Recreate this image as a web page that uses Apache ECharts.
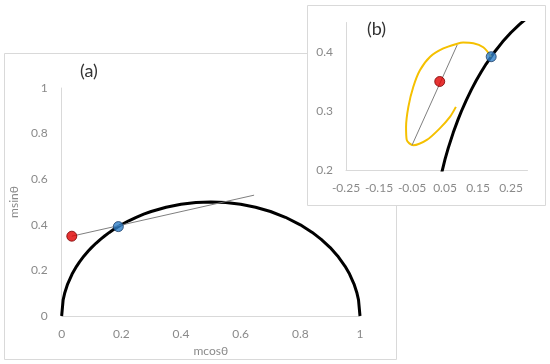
<!DOCTYPE html>
<html><head><meta charset="utf-8">
<script src="https://cdn.jsdelivr.net/npm/echarts@6/dist/echarts.min.js"></script>
<style>html,body{margin:0;padding:0;background:#fff}#c{width:550px;height:364px}</style>
</head><body><div id="c"></div>
<script>
// Semicircle (black curve)
const arcX = [0,0.005,0.01,0.02,0.035,0.05,0.06,0.075,0.09,0.1,0.115,0.13,0.145,0.16,0.175,0.2,0.225,0.25,0.275,0.3,0.35,0.4,0.45,0.5,0.55,0.6,0.65,0.7,0.75,0.8,0.84,0.87,0.9,0.925,0.95,0.965,0.98,0.99,0.995,1];
const arcY = [0,0.0705,0.0995,0.14,0.1838,0.2179,0.2375,0.2634,0.2862,0.3,0.319,0.3363,0.3521,0.3666,0.38,0.4,0.4176,0.433,0.4465,0.4583,0.477,0.4899,0.4975,0.5,0.4975,0.4899,0.477,0.4583,0.433,0.4,0.3666,0.3363,0.3,0.2634,0.2179,0.1838,0.14,0.0995,0.0705,0];
// Points
const redPt = [0.034, 0.35];
const bluePt = [0.19, 0.392];
// Gray line in panel (a)
const lineAX = [0.034, 0.645];
const lineAY = [0.35, 0.53];
// Gray line in panel (b)
const lineBX = [-0.05, 0.087];
const lineBY = [0.242, 0.412];
// Yellow loop in panel (b)
const loopX = [0.19,0.166,0.136,0.105,0.087,0.045,0.005,-0.026,-0.046,-0.061,-0.068,-0.066,-0.046,-0.005,0.035,0.065,0.083];
const loopY = [0.392,0.408,0.415,0.416,0.414,0.406,0.392,0.369,0.341,0.307,0.273,0.251,0.242,0.251,0.271,0.29,0.307];
// Tick labels
const aTicks = [0,0.2,0.4,0.6,0.8,1];
const bXTicks = [-0.25,-0.15,-0.05,0.05,0.15,0.25];
const bYTicks = [0.2,0.3,0.4];

const zip = (a,b)=>a.map((v,i)=>[v,b[i]]);
const FONT = 'Lato';
const GRAY = '#8a8a8a';
const AXC = '#d9d9d9';

const chart = echarts.init(document.getElementById('c'));
chart.setOption({
  animation:false,
  textStyle:{fontFamily:FONT},
  graphic:[
    {type:'rect', z:-10, shape:{x:4.5,y:53.5,width:392,height:306}, style:{fill:'#fff',stroke:AXC,lineWidth:1}},
    {type:'rect', z:-5, shape:{x:307.5,y:5.5,width:238,height:200}, style:{fill:'#fff',stroke:AXC,lineWidth:1}},
    {type:'text', z:10, left:80, top:62, style:{text:'(a)', fontSize:18, fill:'#333', fontFamily:FONT}},
    {type:'text', z:10, left:367, top:20, style:{text:'(b)', fontSize:18, fill:'#333', fontFamily:FONT}}
  ],
  grid:[
    {left:58, top:88, width:302, height:228},
    {left:346, top:22.5, width:181.5, height:147.5}
  ],
  xAxis:[
    {gridIndex:0, type:'value', min:0, max:1, interval:0.2,
     axisLine:{onZero:false, lineStyle:{color:AXC}}, axisTick:{show:false}, splitLine:{show:false},
     axisLabel:{color:GRAY, fontSize:12, margin:12, fontFamily:FONT},
     name:'mcosθ', nameLocation:'middle', nameGap:28, nameTextStyle:{color:GRAY, fontSize:12, fontFamily:FONT}},
    {gridIndex:1, type:'value', min:-0.25, max:0.3,
     axisLine:{onZero:false, lineStyle:{color:AXC}}, axisTick:{show:false}, splitLine:{show:false},
     axisLabel:{color:GRAY, fontSize:12, margin:12, fontFamily:FONT, customValues:bXTicks,
       formatter:v=>String(Math.round(v*100)/100)}}
  ],
  yAxis:[
    {gridIndex:0, type:'value', min:0, max:1, interval:0.2,
     axisLine:{show:true, onZero:false, lineStyle:{color:AXC}}, axisTick:{show:false}, splitLine:{show:false},
     axisLabel:{color:GRAY, fontSize:12, margin:14, fontFamily:FONT},
     name:'msinθ', nameLocation:'middle', nameGap:36, nameTextStyle:{color:GRAY, fontSize:12, fontFamily:FONT}},
    {gridIndex:1, type:'value', min:0.2, max:0.45,
     axisLine:{show:true, onZero:false, lineStyle:{color:AXC}}, axisTick:{show:false}, splitLine:{show:false},
     axisLabel:{color:GRAY, fontSize:12, margin:13, fontFamily:FONT, customValues:bYTicks,
       formatter:v=>String(Math.round(v*100)/100)}}
  ],
  series:[
    {type:'line', xAxisIndex:0, yAxisIndex:0, data:zip(arcX,arcY), showSymbol:false, symbol:'none', lineStyle:{color:'#000', width:3}},
    {type:'line', xAxisIndex:0, yAxisIndex:0, data:zip(lineAX,lineAY), symbol:'none', lineStyle:{color:'#7f7f7f', width:1}},
    {type:'scatter', xAxisIndex:0, yAxisIndex:0, z:5, data:[redPt], symbolSize:10, itemStyle:{color:'#e00000', borderColor:'#7a0000', borderWidth:1}},
    {type:'scatter', xAxisIndex:0, yAxisIndex:0, z:5, data:[bluePt], symbolSize:10, itemStyle:{color:'#2f7fc8', borderColor:'#1f3f66', borderWidth:1}},
    {type:'line', xAxisIndex:1, yAxisIndex:1, data:zip(arcX,arcY), symbol:'none', clip:true, lineStyle:{color:'#000', width:3}},
    {type:'line', xAxisIndex:1, yAxisIndex:1, data:zip(loopX,loopY), symbol:'none', smooth:0.3, lineStyle:{color:'#f5c000', width:2}},
    {type:'line', xAxisIndex:1, yAxisIndex:1, data:zip(lineBX,lineBY), symbol:'none', lineStyle:{color:'#7f7f7f', width:1}},
    {type:'scatter', xAxisIndex:1, yAxisIndex:1, z:5, data:[redPt], symbolSize:10, itemStyle:{color:'#e00000', borderColor:'#7a0000', borderWidth:1}},
    {type:'scatter', xAxisIndex:1, yAxisIndex:1, z:5, data:[bluePt], symbolSize:10, itemStyle:{color:'#2f7fc8', borderColor:'#1f3f66', borderWidth:1}}
  ]
});
</script></body></html>
